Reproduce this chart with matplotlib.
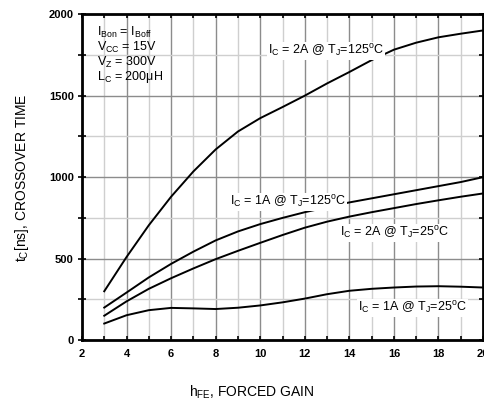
import matplotlib
matplotlib.use("Agg")
import matplotlib.pyplot as plt
from matplotlib.ticker import MultipleLocator

plt.rcParams['font.family'] = ['Liberation Sans', 'DejaVu Sans']
plt.rcParams['mathtext.fontset'] = 'custom'
plt.rcParams['mathtext.rm'] = 'Liberation Sans'
plt.rcParams['mathtext.it'] = 'Liberation Sans'

# forced gain values
hfe = [3, 4, 5, 6, 7, 8, 9, 10, 11, 12, 13, 14, 15, 16, 17, 18, 19, 20]

# crossover time in ns for each test condition
tc_2a_125 = [300, 510, 705, 880, 1035, 1170, 1280, 1362, 1430, 1500, 1575, 1645, 1718, 1782, 1825, 1858, 1880, 1900]
tc_1a_125 = [200, 292, 385, 468, 543, 612, 667, 712, 750, 785, 815, 845, 870, 895, 920, 945, 970, 1000]
tc_2a_25 = [150, 238, 315, 380, 440, 497, 548, 597, 645, 690, 727, 758, 785, 810, 835, 858, 880, 900]
tc_1a_25 = [102, 153, 184, 198, 195, 191, 199, 213, 232, 255, 282, 303, 315, 323, 329, 331, 328, 323]

fig = plt.figure(figsize=(4.85, 4.04), dpi=100)
ax = fig.add_axes([0.169, 0.158, 0.827, 0.807])

for y in (tc_2a_125, tc_1a_125, tc_2a_25, tc_1a_25):
    ax.plot(hfe, y, color='black', lw=1.4, zorder=3)

ax.set_xlim(2, 20)
ax.set_ylim(0, 2000)
ax.xaxis.set_major_locator(MultipleLocator(2))
ax.xaxis.set_minor_locator(MultipleLocator(1))
ax.yaxis.set_major_locator(MultipleLocator(500))
ax.yaxis.set_minor_locator(MultipleLocator(250))
ax.grid(which='major', color='#8c8c8c', lw=1.0, zorder=1)
ax.grid(which='minor', color='#cfcfcf', lw=1.0, zorder=1)
ax.set_axisbelow(True)

for s in ax.spines.values():
    s.set_linewidth(2)

ax.tick_params(axis='x', which='both', direction='in', top=True, length=3, width=1.2, pad=6)
ax.tick_params(axis='y', which='both', direction='inout', right=True, length=6, width=1.2, pad=3)
for t in ax.get_xticklabels() + ax.get_yticklabels():
    t.set_fontweight('bold')
    t.set_fontsize(8)

box = dict(facecolor='white', edgecolor='none', pad=0.5)
ax.text(10.35, 1773, r'I$_{\rm C}$ = 2A @ T$_{\rm J}$=125$^{\rm o}$C', fontsize=9, va='center', bbox=box, zorder=4)
ax.text(8.64, 848, r'I$_{\rm C}$ = 1A @ T$_{\rm J}$=125$^{\rm o}$C', fontsize=9, va='center', bbox=box, zorder=4)
ax.text(13.58, 656, r'I$_{\rm C}$ = 2A @ T$_{\rm J}$=25$^{\rm o}$C', fontsize=9, va='center', bbox=box, zorder=4)
ax.text(14.39, 196, r'I$_{\rm C}$ = 1A @ T$_{\rm J}$=25$^{\rm o}$C', fontsize=9, va='center', bbox=box, zorder=4)

cond = [r'I$_{\rm Bon}$ = I$_{\rm Boff}$', r'V$_{\rm CC}$ = 15V', r'V$_{\rm Z}$ = 300V', r'L$_{\rm C}$ = 200$\mu$H']
for i, line in enumerate(cond):
    fig.text(97 / 485, 1 - (32 + 15 * i) / 404, line, fontsize=9, va='center')

fig.text(0.52, 1 - 392 / 404, r'h$_{\rm FE}$, FORCED GAIN', fontsize=10, ha='center', va='center')
fig.text(22 / 485, 0.56, r't$_{\rm C}$[ns], CROSSOVER TIME', fontsize=10, rotation=90, ha='center', va='center')

fig.savefig('out.png', dpi=100)
